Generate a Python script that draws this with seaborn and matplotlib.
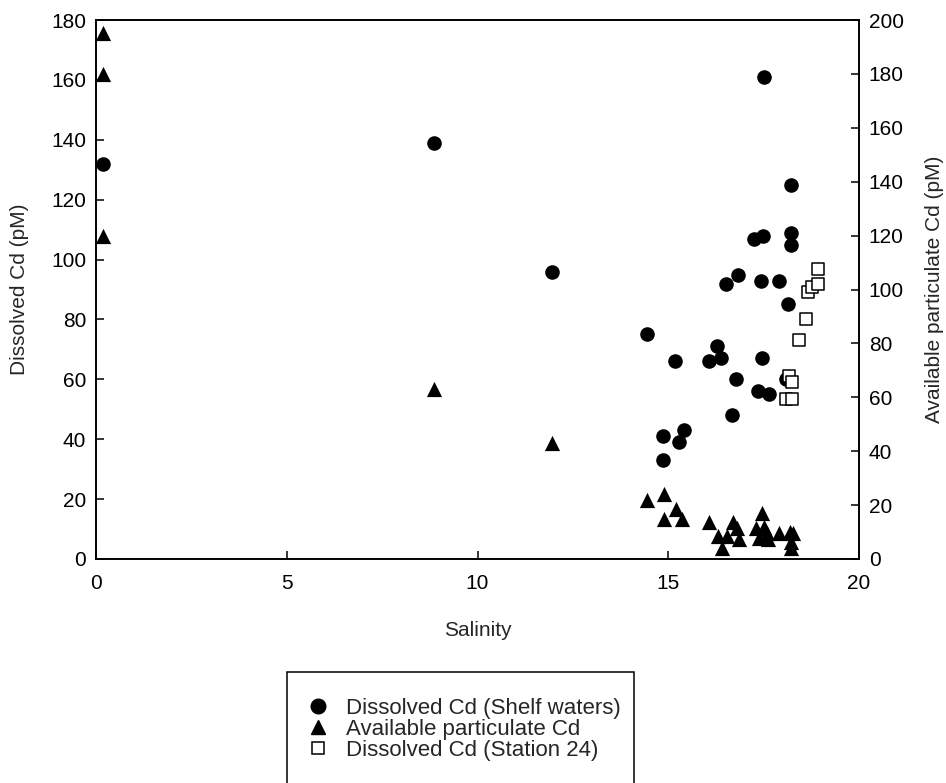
import matplotlib
matplotlib.use("Agg")
import matplotlib.pyplot as plt
from matplotlib.lines import Line2D
from matplotlib.patches import Rectangle
import seaborn as sns
import pandas as pd

# Dissolved Cd (Shelf waters) - left axis
shelf_sal = [0.18, 8.86, 11.95, 14.43, 14.87, 14.87, 15.19, 15.29, 15.40, 16.07,
             16.27, 16.38, 16.52, 16.66, 16.77, 16.84, 17.26, 17.36, 17.43, 17.47,
             17.49, 17.51, 17.64, 17.90, 18.08, 18.15, 18.21, 18.21, 18.22]
shelf_cd = [132, 139, 96, 75, 41, 33, 66, 39, 43, 66,
            71, 67, 92, 48, 60, 95, 107, 56, 93, 67,
            108, 161, 55, 93, 60, 85, 109, 105, 125]

# Dissolved Cd (Station 24) - left axis
st24_sal = [18.08, 18.17, 18.25, 18.25, 18.44, 18.61, 18.66, 18.78, 18.92, 18.92]
st24_cd = [53.4, 61, 59, 53.4, 73, 80, 89, 91, 92, 97]

# Available particulate Cd - right axis
part_sal = [0.18, 0.18, 0.18, 8.86, 11.95, 14.45, 14.90, 14.90, 15.20, 15.35,
            16.08, 16.30, 16.40, 16.55, 16.69, 16.80, 16.86, 17.31, 17.39, 17.46,
            17.52, 17.58, 17.62, 17.91, 18.18, 18.23, 18.21, 18.27]
part_cd = [195, 180, 120, 63, 43, 22, 24, 14.7, 18.4, 15,
           13.9, 8.7, 4, 8.7, 13.9, 11.4, 7.4, 11.4, 7.7, 17,
           12, 9.5, 7.3, 9.8, 10.1, 4, 6.4, 9.5]

labels = ["Dissolved Cd (Shelf waters)", "Available particulate Cd", "Dissolved Cd (Station 24)"]

sns.set_style("ticks")
plt.rcParams["font.family"] = ["Liberation Sans", "DejaVu Sans"]
FS = 15
LFS = 16

W, H = 946, 783
fig = plt.figure(figsize=(W/100, H/100), dpi=100)
ax = fig.add_axes([96/W, 1-559/H, (859-96)/W, (559-20)/H])
ax2 = ax.twinx()

df_shelf = pd.DataFrame({"Salinity": shelf_sal, "Cd": shelf_cd})
df_st24 = pd.DataFrame({"Salinity": st24_sal, "Cd": st24_cd})
df_part = pd.DataFrame({"Salinity": part_sal, "Cd": part_cd})

sns.scatterplot(data=df_shelf, x="Salinity", y="Cd", ax=ax, marker="o", s=110,
                color="black", edgecolor="black", linewidth=0, legend=False, clip_on=False, zorder=3)
sns.scatterplot(data=df_st24, x="Salinity", y="Cd", ax=ax, marker="s", s=75,
                facecolor="white", edgecolor="black", linewidth=1.1, legend=False, clip_on=False, zorder=4)
sns.scatterplot(data=df_part, x="Salinity", y="Cd", ax=ax2, marker="^", s=120,
                color="black", edgecolor="black", linewidth=0, legend=False, clip_on=False, zorder=3)

ax.set_xlim(0, 20)
ax.set_ylim(0, 180)
ax2.set_ylim(0, 200)
ax.set_xticks([0, 5, 10, 15, 20])
ax.set_yticks(range(0, 181, 20))
ax2.set_yticks(range(0, 201, 20))

ax.set_xlabel("Salinity", fontsize=FS, labelpad=20)
ax.set_ylabel("Dissolved Cd (pM)", fontsize=FS, labelpad=16)
ax2.set_ylabel("Available particulate Cd (pM)", fontsize=FS, labelpad=15)

for a in (ax, ax2):
    a.tick_params(direction="in", length=6, width=1.1, labelsize=FS, pad=7, colors="black")
    for sp in a.spines.values():
        sp.set_linewidth(1.2)
        sp.set_color("black")
ax.tick_params(axis="x", pad=11)
ax.set_facecolor("white")

# legend frame drawn as a rectangle in figure pixels
fig.patches.append(Rectangle((287/W, -0.02), (634-287)/W, 0.02 + (H-672)/H,
                             transform=fig.transFigure, fill=False, edgecolor="black",
                             linewidth=1.1))

handles = [
    Line2D([], [], marker="o", linestyle="none", color="black", markersize=10.5),
    Line2D([], [], marker="^", linestyle="none", color="black", markersize=10.5),
    Line2D([], [], marker="s", linestyle="none", markerfacecolor="white",
           markeredgecolor="black", markeredgewidth=1.1, markersize=9),
]
fs_px = LFS * 100 / 72
hl = 1.0
leg = fig.legend(handles, labels, loc="upper left",
                 bbox_to_anchor=((318 - hl * fs_px / 2) / W, 1 - 698/H),
                 bbox_transform=fig.transFigure, fontsize=LFS, frameon=False,
                 borderpad=0, labelspacing=0.0, handletextpad=0.75, handlelength=hl,
                 borderaxespad=0)

fig.savefig("out.png", dpi=100, facecolor="white")
